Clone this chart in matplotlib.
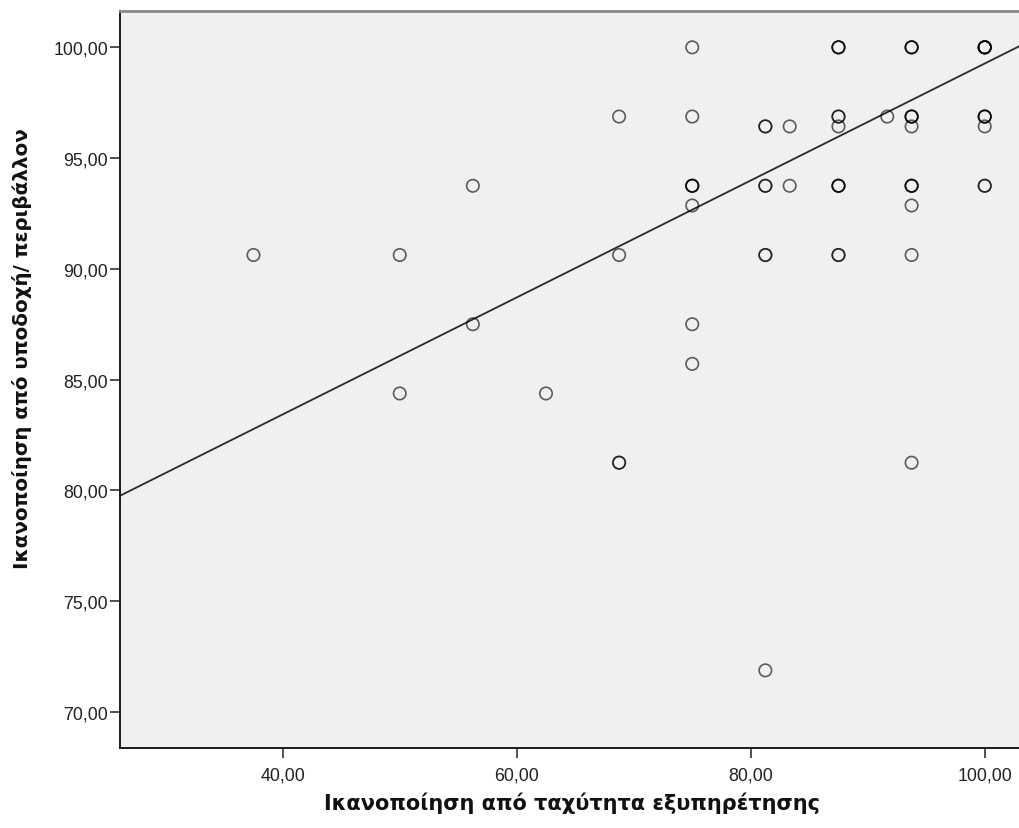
import matplotlib
matplotlib.use("Agg")
import matplotlib.pyplot as plt
import numpy as np

# satisfaction scores: speed of service (x) vs. reception / environment (y)
speed = [37.5, 50, 50, 56.25, 56.25, 62.5, 68.75, 68.75, 68.75,
         75, 75, 75, 75, 75, 75,
         81.25, 81.25, 81.25, 81.25, 83.33, 83.33,
         87.5, 87.5, 87.5, 87.5, 87.5, 91.67,
         93.75, 93.75, 93.75, 93.75, 93.75, 93.75, 93.75,
         100, 100, 100, 100]
environment = [90.625, 90.625, 84.375, 93.75, 87.5, 84.375, 96.875, 90.625, 81.25,
               100, 96.875, 93.75, 92.86, 87.5, 85.71,
               96.43, 93.75, 90.625, 71.875, 96.43, 93.75,
               100, 96.875, 96.43, 93.75, 90.625, 96.875,
               100, 96.875, 96.43, 93.75, 92.86, 90.625, 81.25,
               100, 96.875, 96.43, 93.75]
# number of respondents sharing each (x, y) pair
counts = [1, 1, 1, 1, 1, 1, 1, 1, 2,
          1, 1, 3, 1, 1, 1,
          2, 2, 2, 1, 1, 1,
          3, 2, 1, 3, 2, 1,
          3, 3, 1, 3, 1, 1, 1,
          5, 3, 1, 2]

# linear fit line
fit_intercept = 72.87
fit_slope = 0.264

x_ticks = [40, 60, 80, 100]
y_ticks = [70, 75, 80, 85, 90, 95, 100]

W, H = 1019, 829
fig = plt.figure(figsize=(W / 100, H / 100), dpi=100, facecolor="w")
left, right, top, bottom = 120, 1030, 12, 749
ax = fig.add_axes([left / W, (H - bottom) / H, (right - left) / W, (bottom - top) / H])
ax.set_facecolor("#f0f0f0")

x = np.repeat(speed, counts)
y = np.repeat(environment, counts)
ax.scatter(x, y, s=80, facecolors="none", edgecolors=(0, 0, 0, 0.62),
           linewidths=1.2, zorder=3)

xl = (26.09, 103.87)
ax.set_xlim(xl)
ax.set_ylim(68.37, 101.64)
xx = np.array(xl)
ax.plot(xx, fit_intercept + fit_slope * xx, color="#2a2a2a", lw=1.3, zorder=2)

ax.set_xticks(x_ticks)
ax.set_xticklabels([f"{v:.2f}".replace(".", ",") for v in x_ticks])
ax.set_yticks(y_ticks)
ax.set_yticklabels([f"{v:.2f}".replace(".", ",") for v in y_ticks])
ax.tick_params(direction="out", length=7.5, width=1.1, color="#222222",
               labelsize=12.8, labelcolor="#222222", pad=1)
for lab in ax.get_xticklabels() + ax.get_yticklabels():
    lab.set_fontfamily("Liberation Sans")
ax.tick_params(axis="x", pad=6)

for side in ("left", "bottom"):
    ax.spines[side].set_color("#1a1a1a")
    ax.spines[side].set_linewidth(1.4)
ax.spines["top"].set_color("#888888")
ax.spines["top"].set_linewidth(2)
ax.spines["right"].set_visible(False)

fig.text(572 / W, 1 - 803 / H, "Ικανοποίηση από ταχύτητα εξυπηρέτησης",
         ha="center", va="center", fontsize=15, fontweight="bold", color="#111111")
fig.text(22 / W, 1 - 349 / H, "Ικανοποίηση από υποδοχή/ περιβάλλον",
         ha="center", va="center", rotation=90, fontsize=14.3, fontweight="bold",
         color="#111111")

fig.savefig("out.png", dpi=100, facecolor="w")
